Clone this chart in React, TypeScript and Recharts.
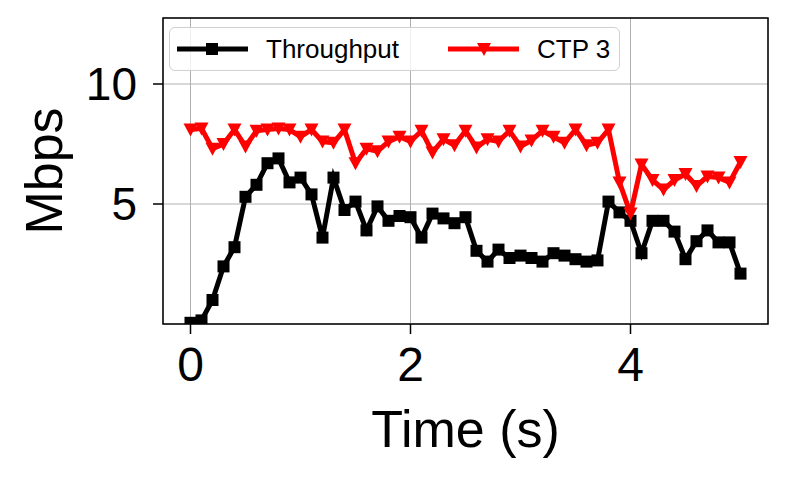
import React from 'react';
import {
  LineChart,
  Line,
  XAxis,
  YAxis,
  CartesianGrid,
  ReferenceArea,
} from 'recharts';

// time axis, one sample every 0.1 s
const times = [
  0, 0.1, 0.2, 0.3, 0.4, 0.5, 0.6, 0.7, 0.8, 0.9,
  1.0, 1.1, 1.2, 1.3, 1.4, 1.5, 1.6, 1.7, 1.8, 1.9,
  2.0, 2.1, 2.2, 2.3, 2.4, 2.5, 2.6, 2.7, 2.8, 2.9,
  3.0, 3.1, 3.2, 3.3, 3.4, 3.5, 3.6, 3.7, 3.8, 3.9,
  4.0, 4.1, 4.2, 4.3, 4.4, 4.5, 4.6, 4.7, 4.8, 4.9, 5.0,
];

const throughput = [
  0.05, 0.15, 1.0, 2.4, 3.2, 5.3, 5.8, 6.7, 6.9, 5.9,
  6.1, 5.4, 3.6, 6.1, 4.75, 5.1, 3.9, 4.9, 4.3, 4.5,
  4.45, 3.6, 4.6, 4.4, 4.2, 4.45, 3.05, 2.6, 3.1, 2.75,
  2.85, 2.75, 2.6, 2.95, 2.85, 2.7, 2.6, 2.65, 5.1, 4.65,
  4.3, 2.95, 4.3, 4.3, 3.85, 2.7, 3.45, 3.9, 3.4, 3.4, 2.1,
];

const ctp3 = [
  8.1, 8.15, 7.3, 7.5, 8.1, 7.4, 8.05, 8.1, 8.15, 8.1,
  7.8, 8.1, 7.6, 7.55, 8.1, 6.7, 7.3, 7.2, 7.6, 7.8,
  7.6, 8.05, 7.15, 7.7, 7.45, 8.05, 7.35, 7.7, 7.6, 8.05,
  7.4, 7.65, 8.05, 7.8, 7.55, 8.1, 7.45, 7.55, 8.1, 5.9,
  4.6, 6.65, 6.0, 5.6, 6.0, 6.25, 5.75, 6.15, 6.1, 5.9, 6.75,
];

const xTicks = [0, 2, 4];
const yTicks = [5, 10];

const FONT = 'Liberation Sans, Arial, Helvetica, sans-serif';

const data = times.map((t, i) => ({ t, throughput: throughput[i], ctp: ctp3[i] }));

const SquareDot = (props: any) => {
  const { cx, cy } = props;
  if (cx == null || cy == null) return null;
  return <rect x={cx - 6} y={cy - 6} width={12} height={12} fill="#000" />;
};

const TriangleDot = (props: any) => {
  const { cx, cy } = props;
  if (cx == null || cy == null) return null;
  return (
    <path d={`M${cx - 7},${cy - 6} L${cx + 7},${cy - 6} L${cx},${cy + 7} Z`} fill="#ff0000" />
  );
};

function LegendBox() {
  const item = (color: string, label: string, marker: React.ReactNode) => (
    <div style={{ display: 'flex', alignItems: 'center' }}>
      <svg width={71} height={16} style={{ marginRight: 18, display: 'block' }}>
        <line x1={0} y1={8} x2={71} y2={8} stroke={color} strokeWidth={5} />
        {marker}
      </svg>
      <span style={{ fontFamily: FONT, fontSize: 26, color: '#000', lineHeight: '26px' }}>{label}</span>
    </div>
  );
  return (
    <div
      style={{
        position: 'absolute',
        left: 169,
        top: 27,
        width: 451,
        height: 44,
        boxSizing: 'border-box',
        border: '1.5px solid #d0d0d0',
        borderRadius: 6,
        background: 'rgba(255,255,255,0.8)',
        display: 'flex',
        alignItems: 'center',
        paddingLeft: 7,
      }}
    >
      {item('#000', 'Throughput', <rect x={29} y={2} width={12} height={12} fill="#000" />)}
      <div style={{ width: 49 }} />
      {item('#ff0000', 'CTP 3', <path d="M29,2 L43,2 L36,15 Z" fill="#ff0000" />)}
    </div>
  );
}

const MbpsLabel = (props: any) => {
  const { viewBox } = props;
  const cy = viewBox.y + viewBox.height / 2;
  return (
    <text
      x={62}
      y={cy}
      transform={`rotate(-90, 62, ${cy})`}
      textAnchor="middle"
      fontFamily={FONT}
      fontSize={52}
      fill="#000"
    >
      Mbps
    </text>
  );
};

const TimeLabel = (props: any) => {
  const { viewBox } = props;
  const cx = viewBox.x + viewBox.width / 2;
  return (
    <text x={cx} y={447} textAnchor="middle" fontFamily={FONT} fontSize={52} fill="#000">
      Time (s)
    </text>
  );
};

export default function App() {
  return (
    <div style={{ position: 'absolute', left: 0, top: 0, width: 792, height: 480, background: '#fff' }}>
      <LineChart
        width={792}
        height={480}
        data={data}
        margin={{ top: 18, right: 24, bottom: 0, left: 0 }}
      >
        <CartesianGrid stroke="#b0b0b0" strokeWidth={1} />
        <XAxis
          dataKey="t"
          type="number"
          domain={[-0.25, 5.25]}
          ticks={xTicks}
          height={156}
          tickSize={10}
          tickMargin={13}
          stroke="#000"
          axisLine={false}
          tickLine={{ stroke: '#000', strokeWidth: 1.5 }}
          tick={{ fill: '#000', fontSize: 48, fontFamily: FONT }}
          label={<TimeLabel />}
          allowDataOverflow
        />
        <YAxis
          type="number"
          domain={[0, 12.75]}
          ticks={yTicks}
          width={163}
          tickSize={10}
          tickMargin={16}
          stroke="#000"
          axisLine={false}
          tickLine={{ stroke: '#000', strokeWidth: 1.5 }}
          tick={{ fill: '#000', fontSize: 46, fontFamily: FONT }}
          label={<MbpsLabel />}
          allowDataOverflow
        />
        <ReferenceArea
          x1={-0.25}
          x2={5.25}
          y1={0}
          y2={12.75}
          fill="none"
          stroke="#000"
          strokeWidth={1.5}
          ifOverflow="visible"
        />
        <Line
          dataKey="throughput"
          stroke="#000"
          strokeWidth={5}
          dot={<SquareDot />}
          activeDot={false}
          isAnimationActive={false}
        />
        <Line
          dataKey="ctp"
          stroke="#ff0000"
          strokeWidth={5}
          dot={<TriangleDot />}
          activeDot={false}
          isAnimationActive={false}
        />
      </LineChart>
      <LegendBox />
    </div>
  );
}
